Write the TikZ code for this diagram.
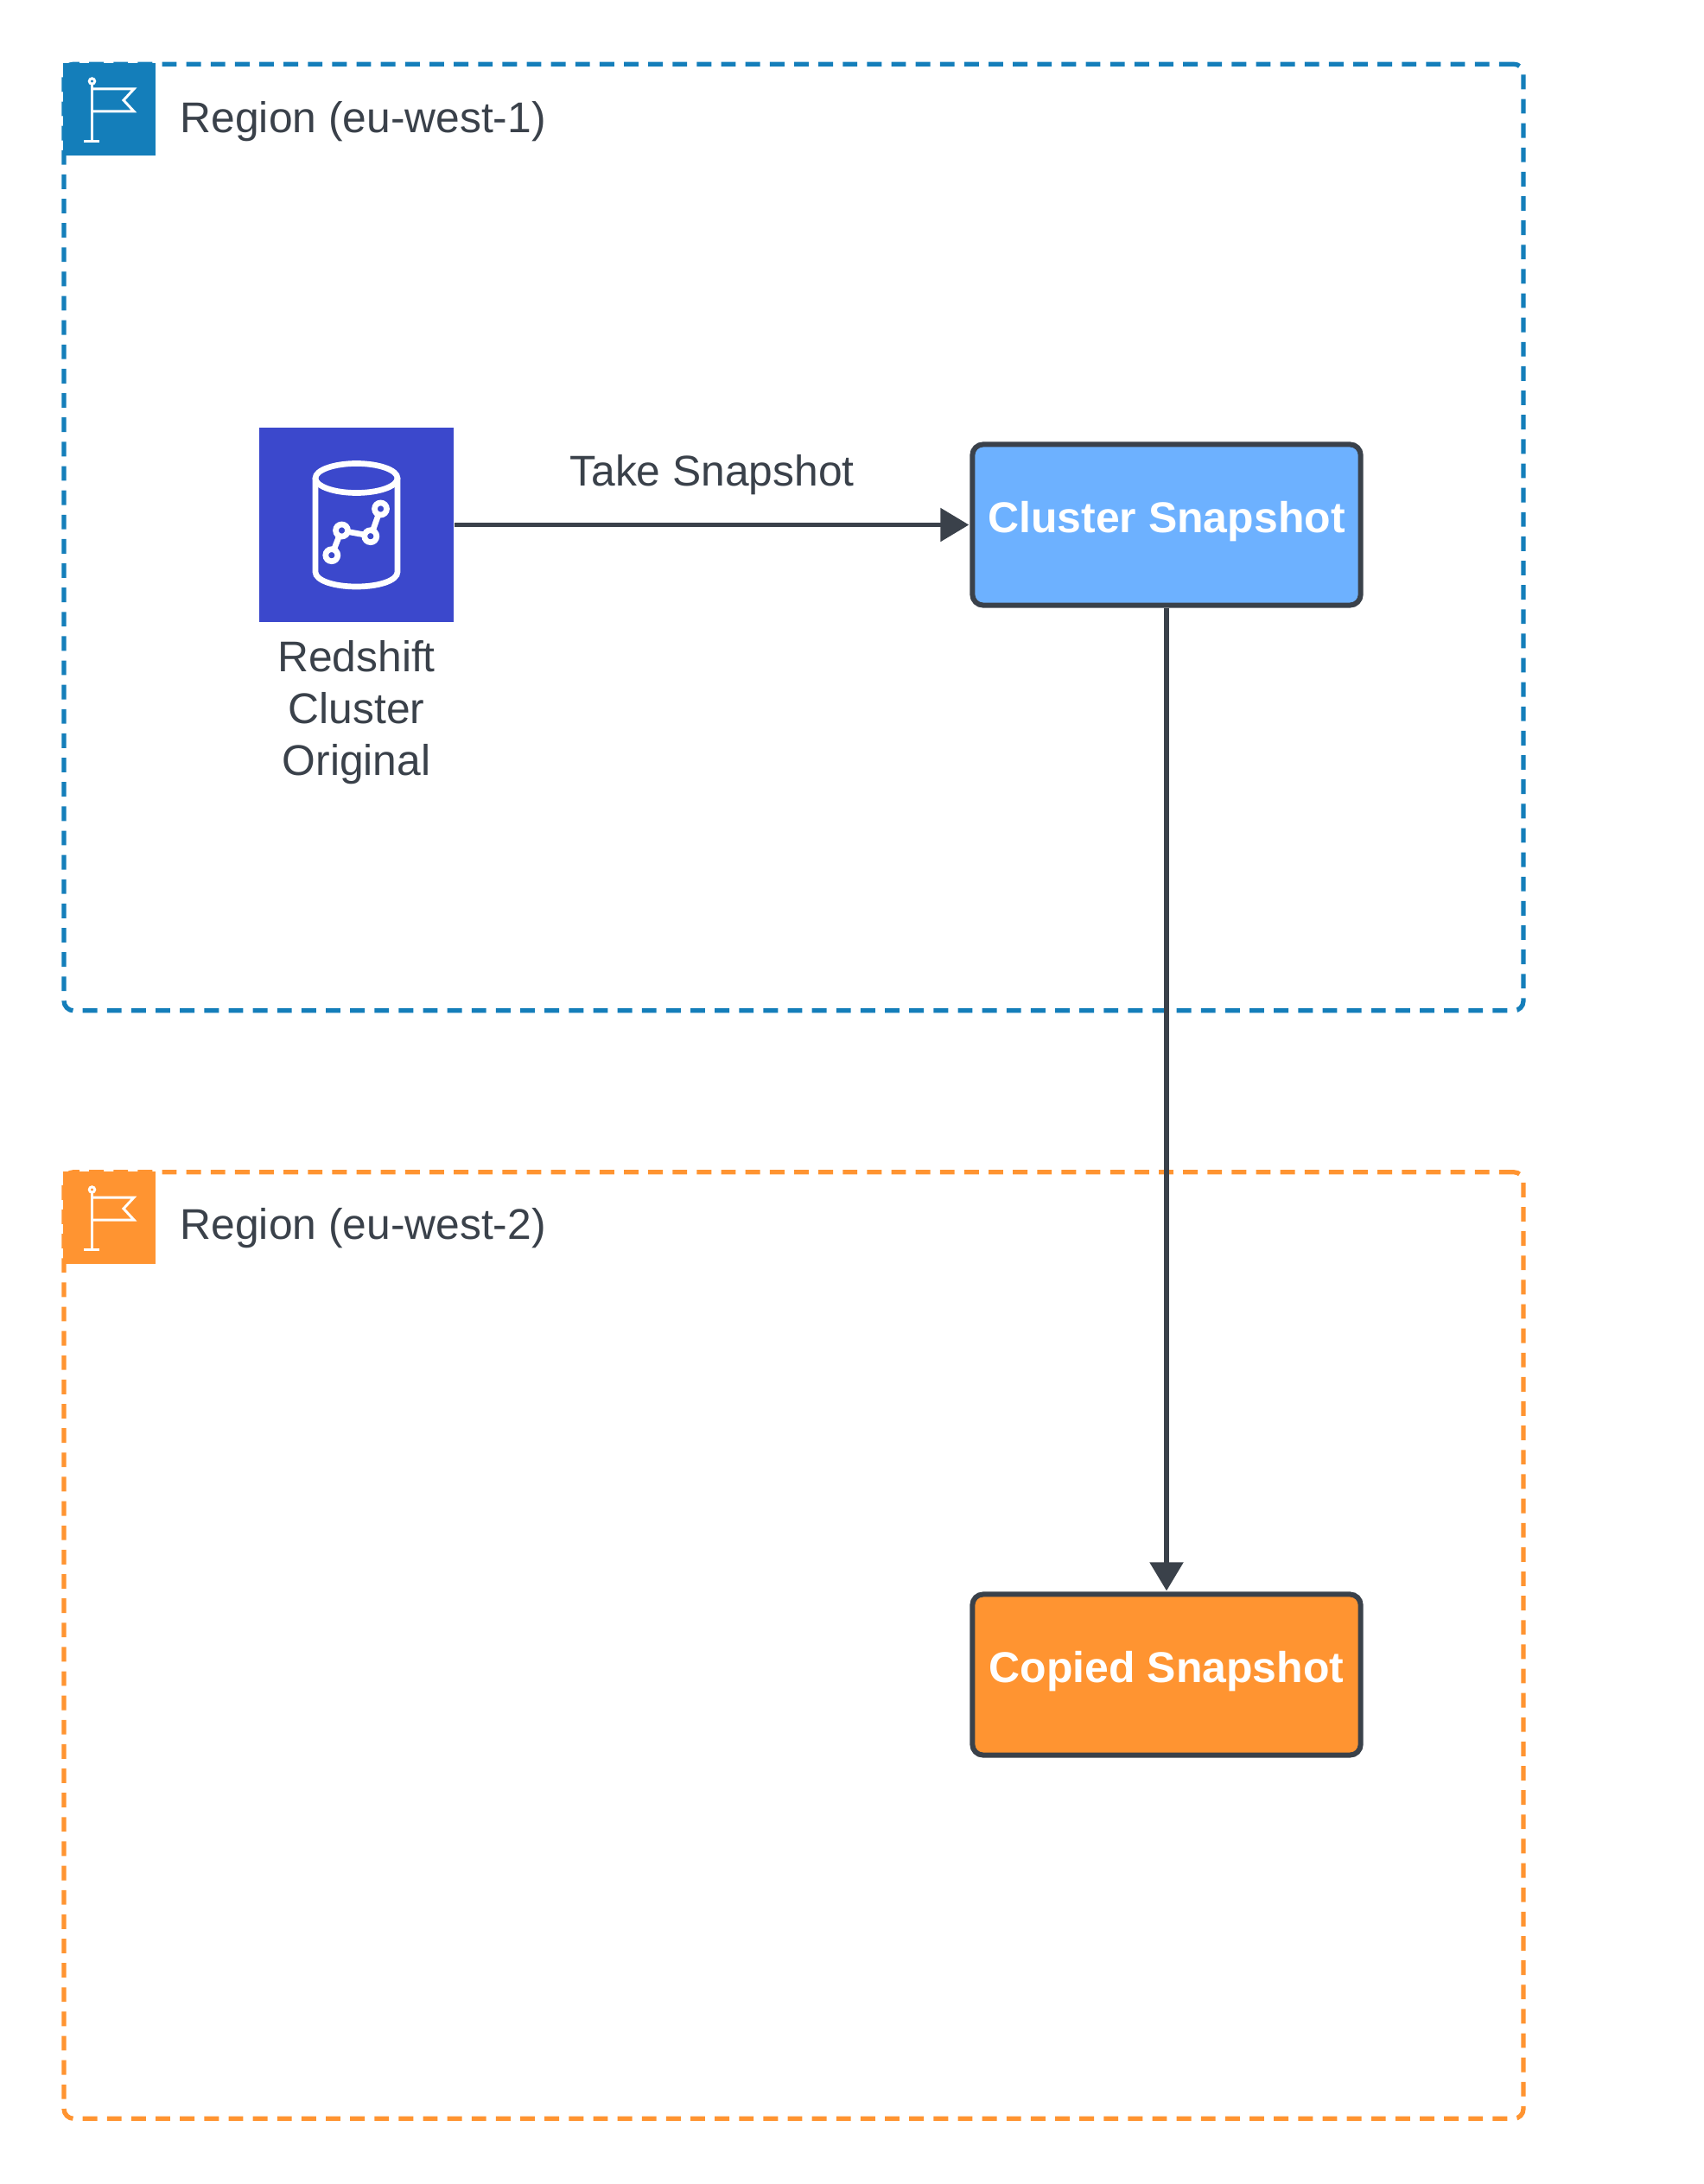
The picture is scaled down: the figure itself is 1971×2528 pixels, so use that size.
\documentclass[tikz,border=0pt]{standalone}
\usepackage{xcolor}
\usepackage{fontspec}
\setmainfont{Liberation Sans}
\usepackage{tikz}
\usetikzlibrary{arrows.meta,positioning}
\definecolor{regionblue}{RGB}{20,126,186}
\definecolor{regionorange}{RGB}{255,148,49}
\definecolor{clusterindigo}{RGB}{59,72,204}
\definecolor{snapshotblue}{RGB}{109,177,255}
\definecolor{slate}{RGB}{58,65,74}
\tikzset{
  regionbox/.style={draw=#1, line width=1.5pt, dash pattern=on 4.8pt off 3.2pt, rounded corners=3.2pt, minimum width=16.88cm, minimum height=10.95cm, inner sep=0pt},
  regionicon/.style={fill=#1, minimum size=1.07cm, inner sep=0pt},
  snapshotbox/.style={draw=slate, fill=#1, line width=1.7pt, rounded corners=3.5pt, minimum width=4.49cm, minimum height=1.86cm, inner sep=0pt, text=white, font=\fontsize{14.2}{17}\selectfont\bfseries, text depth=0.19cm},
  regionlabel/.style={text=slate, font=\fontsize{14.15}{17}\selectfont, anchor=west, inner sep=0pt},
  flagline/.style={draw=white, line width=0.85pt},
  linkarrow/.style={draw=slate, line width=1.6pt, -{Triangle[length=9.4pt,width=10.8pt]}}
}
\begin{document}
\begin{tikzpicture}[x=0.01cm,y=-0.01cm]
\useasboundingbox (0,0) rectangle (1971,2528);
% regions
\node[regionbox=regionblue] (regionone) at (918.5,622) {};
\node[regionbox=regionorange] (regiontwo) at (918.5,1904.5) {};
\node[regionicon=regionblue] (iconone) at (126.5,126.5) {};
\node[regionicon=regionorange] (icontwo) at (126.5,1409.5) {};
\node[regionlabel] (labelone) at (208,141) {Region (eu-west-1)};
\node[regionlabel] (labeltwo) at (208,1422) {Region (eu-west-2)};
% flags
\foreach \dy in {0,1283} {
\begin{scope}[yshift=-\dy*0.01cm]
\draw[flagline] (97,163.5) -- (115,163.5);
\draw[flagline] (106.5,98) -- (106.5,163.5);
\draw[flagline] (106.5,94) circle[radius=3.2];
\draw[flagline] (106.5,103) -- (155,103) -- (143,116) -- (155,129) -- (106.5,129);
\end{scope}
}
% redshift icon
\node[fill=clusterindigo, minimum size=2.25cm, inner sep=0pt] (cluster) at (412.5,607.5) {};
\begin{scope}[draw=white, line width=1.9pt]
\draw (412.5,553.5) ellipse[x radius=47.5, y radius=17];
\draw (365,553.5) -- (365,662) .. controls (365,672) and (386.5,679) .. (412.5,679) .. controls (438.5,679) and (460,672) .. (460,662) -- (460,553.5);
\draw (383.8,642.7) circle[radius=7];
\draw (395.5,614) circle[radius=7];
\draw (428.8,620.7) circle[radius=7];
\draw (440.5,589) circle[radius=7];
\draw (386.5,636) -- (392.5,620.5);
\draw (402.5,615.5) -- (422,619);
\draw (431.5,614) -- (438,595.5);
\end{scope}
\node[text=slate, font=\fontsize{14.15}{17}\selectfont, align=center, below=0.2cm of cluster, inner sep=0pt] (clusterlabel) {Redshift\\Cluster\\Original};
% snapshots
\node[snapshotbox=snapshotblue] (clustersnap) at (1350,607.5) {Cluster Snapshot};
\node[snapshotbox=regionorange] (copiedsnap) at (1350,1938.5) {Copied Snapshot};
% arrows
\draw[linkarrow, shorten >=0.3pt] (cluster.east |- clustersnap.west) -- (clustersnap.west) node[midway, above=0.32cm, text=slate, font=\fontsize{14.15}{17}\selectfont, inner sep=0pt] (takelabel) {Take Snapshot};
\draw[linkarrow, shorten >=0.3pt] (clustersnap.south) -- (copiedsnap.north);
\end{tikzpicture}
\end{document}
